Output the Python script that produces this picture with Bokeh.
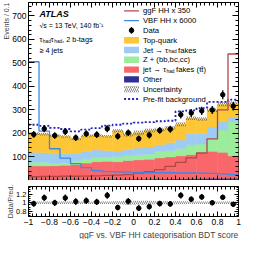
import numpy as np
from bokeh.plotting import figure
from bokeh.layouts import column
from bokeh.models import Range1d, FixedTicker, LinearAxis, Title, CustomJSTickFormatter
from bokeh.core.properties import value
from bokeh.embed import file_html
from bokeh.resources import INLINE

# ---------------- data ----------------
bin_low = [-1.0, -0.9, -0.8, -0.7, -0.6, -0.5, -0.4, -0.3, -0.2, -0.1,
           0.0, 0.1, 0.2, 0.3, 0.4, 0.5, 0.6, 0.7, 0.8, 0.9]
bin_width = 0.1

data = [196, 220, 191, 208, 182, 199, 195, 220, 188, 203,
        178, 193, 213, 218, 280, 287, 296, 300, 365, 316]
other = [4, 4, 4, 4, 4, 4, 4, 5, 5, 5, 5, 5, 6, 6, 7, 8, 9, 10, 10, 10]
fake_tt = [58, 58, 59, 61, 64, 70, 76, 77, 75, 80,
           83, 85, 90, 94, 98, 102, 109, 114, 110, 95]
z_hf = [16, 16, 11, 11, 16, 18, 18, 18, 22, 20,
        22, 22, 28, 28, 31, 42, 37, 54, 95, 145]
jet_fake = [42, 40, 40, 38, 32, 31, 32, 28, 23, 27,
            28, 30, 28, 34, 36, 48, 45, 50, 35, 20]
top_quark = [80, 79, 77, 73, 61, 67, 61, 60, 86, 64,
             65, 70, 65, 62, 67, 65, 61, 72, 74, 57]
unc_frac = [0.03, 0.03, 0.03, 0.03, 0.03, 0.03, 0.03, 0.03, 0.035, 0.05,
            0.05, 0.045, 0.035, 0.035, 0.035, 0.03, 0.03, 0.03, 0.03, 0.03]
prefit = [237, 232, 224, 219, 209, 216, 223, 233, 237, 242,
          246, 248, 252, 254, 294, 298, 308, 334, 334, 344]
ggf_x350 = [16, 17, 17, 18, 18, 19, 20, 22, 23, 25,
            32, 38, 46, 60, 77, 96, 117, 177, 300, 538]
vbf_x6000 = [505, 210, 135, 95, 72, 55, 42, 38, 37, 36,
             34, 33, 33, 33, 32, 32, 31, 30, 28, 25]

x_ticks = [-1.0, -0.8, -0.6, -0.4, -0.2, 0.0, 0.2, 0.4, 0.6, 0.8, 1.0]
x_minor = [round(-1 + 0.04 * i, 2) for i in range(51)]
y_ticks = [100, 200, 300, 400, 500, 600, 700]
y_minor = list(range(0, 760, 20))
r_ticks = [0.8, 1.0, 1.2]
r_minor = [round(0.7 + 0.05 * i, 2) for i in range(14)]

legend_labels = ["ggF HH x 350", "VBF HH x 6000", "Data", "Top-quark",
                 "Jet \u2192 \u03c4", "Z + (bb,bc,cc)", "jet \u2192 \u03c4",
                 "Other", "Uncertainty", "Pre-fit background"]

# ---------------- style ----------------
FONT = "Liberation Sans"
C_TOP = "#fdc636"
C_JET = "#9dcbf3"
C_Z = "#9bec9b"
C_FAKETT = "#f9676a"
C_OTHER = "#2e3192"
C_GGF = "#b0484a"
C_VBF = "#3f86e6"
C_PREFIT = "#2323bb"
DOTS = "2 2"
HATCH = dict(hatch_pattern="/", hatch_color="#555555", hatch_scale=4, hatch_weight=0.7)

W = 250
Y_MAX = 757

lo = np.array(bin_low)
hi = lo + bin_width
ctr = lo + bin_width / 2
edges = np.append(lo, hi[-1])
d = np.array(data, dtype=float)
err = np.sqrt(d)

main = figure(width=W, height=180, x_range=Range1d(-1, 1), y_range=Range1d(0, Y_MAX),
              output_backend="svg", toolbar_location=None,
              min_border_left=26, min_border_right=12, min_border_top=2, min_border_bottom=0)

xticker = FixedTicker(ticks=x_ticks, minor_ticks=x_minor)
yticker = FixedTicker(ticks=y_ticks, minor_ticks=y_minor)
rticker = FixedTicker(ticks=r_ticks, minor_ticks=r_minor)
fmt = CustomJSTickFormatter(code="""
const v = Math.round(tick*100)/100;
return (v < 0 ? '\\u2212' : '') + String(Math.abs(v));
""")


def style_axis(ax, tin, minin, labels, size="8.5px"):
    ax.major_tick_in = tin
    ax.major_tick_out = 0
    ax.minor_tick_in = minin
    ax.minor_tick_out = 0
    ax.axis_line_color = None
    ax.major_tick_line_color = "black"
    ax.minor_tick_line_color = "black"
    if labels:
        ax.major_label_text_font_size = size
        ax.major_label_text_font = FONT
        ax.major_label_text_color = "black"
        ax.major_label_standoff = 2
    else:
        # tick marks only: labels are not drawn at all
        ax.major_label_text_font_size = "1px"
        ax.major_label_text_color = None
        ax.major_label_standoff = 0


def frame_style(p):
    p.xgrid.visible = False
    p.ygrid.visible = False
    p.outline_line_color = "black"
    p.outline_line_width = 1
    p.outline_line_alpha = 1
    p.background_fill_color = "white"
    p.border_fill_color = "white"


frame_style(main)
bx = main.below[0]
bx.ticker = xticker
style_axis(bx, 5, 3, False)
ly = main.left[0]
ly.ticker = yticker
style_axis(ly, 6, 3, True)
ax_top = LinearAxis(ticker=xticker)
style_axis(ax_top, 5, 3, False)
main.add_layout(ax_top, "above")
ax_r = LinearAxis(ticker=yticker)
style_axis(ax_r, 6, 3, False)
main.add_layout(ax_r, "right")
main.add_layout(Title(text="Events / 0.1", align="right", text_font_size="7px",
                      text_font=FONT, text_font_style="normal", standoff=0), "left")

# stacked backgrounds
bottom = np.zeros(len(bin_low))
for vals, col in [(other, C_OTHER), (fake_tt, C_FAKETT), (z_hf, C_Z),
                  (jet_fake, C_JET), (top_quark, C_TOP)]:
    t = bottom + np.array(vals, dtype=float)
    main.quad(left=lo, right=hi, bottom=bottom, top=t, fill_color=col,
              line_color=col, line_width=0.5)
    bottom = t
total = bottom
unc = total * np.array(unc_frac)
main.quad(left=lo, right=hi, bottom=total - unc, top=total + unc,
          fill_alpha=0, line_color=None, **HATCH)


def sy(v):
    v = np.array(v, dtype=float)
    return np.append(v, v[-1])


main.step(edges, sy(prefit), mode="after", line_color=C_PREFIT, line_width=1.8, line_dash=DOTS)
main.step(edges, sy(ggf_x350), mode="after", line_color=C_GGF, line_width=1.3)
main.step(edges, sy(vbf_x6000), mode="after", line_color=C_VBF, line_width=1.3)
main.segment(x0=ctr, y0=d - err, x1=ctr, y1=d + err, line_color="black", line_width=1.3)
main.scatter(ctr, d, size=4.5, color="black")


# annotation helpers: page pixel -> data coordinates of the main frame
def X(px):
    return -1 + (px - 34.0) * 2.0 / 212.0


def Y(py):
    return (188.0 - py) * Y_MAX / 178.0


def txt(px, py, s, size="7.3px", style="normal"):
    main.text(x=[X(px)], y=[Y(py)], text=[s], text_font=value(FONT),
              text_font_size=value(size), text_font_style=style,
              text_baseline="middle", text_align="left", text_color="black")


txt(45, 21.7, "ATLAS", "9px", "bold italic")
txt(45, 33, "\u221as = 13 TeV, 140 fb\u207b\u00b9", "7px")
txt(45, 47.3, "\u03c4")
txt(48.5, 49.2, "had", "4.8px")
txt(56.5, 47.3, "\u03c4")
txt(60, 49.2, "had", "4.8px")
txt(68, 47.3, ", 2 b-tags")
txt(45, 58, "\u2265 4 jets")

# legend
ry = [18.3 + 9.8 * i for i in range(10)]
LX0, LX1, TX = 130.5, 145.5, 149.5
LS = "7.7px"
main.line([X(LX0), X(LX1)], [Y(ry[0])] * 2, line_color=C_GGF, line_width=1.3)
main.line([X(LX0), X(LX1)], [Y(ry[1])] * 2, line_color=C_VBF, line_width=1.3)
main.segment(x0=[X(138)], y0=[Y(ry[2] - 3.3)], x1=[X(138)], y1=[Y(ry[2] + 3.3)],
             line_color="black", line_width=1.3)
main.scatter([X(138)], [Y(ry[2])], size=4.5, color="black")
for i, col in zip([3, 4, 5, 6, 7], [C_TOP, C_JET, C_Z, C_FAKETT, C_OTHER]):
    main.quad(left=[X(LX0)], right=[X(LX1)], top=[Y(ry[i] - 3.2)], bottom=[Y(ry[i] + 3.2)],
              fill_color=col, line_color=None)
main.quad(left=[X(LX0)], right=[X(LX1)], top=[Y(ry[8] - 3.2)], bottom=[Y(ry[8] + 3.2)],
          fill_alpha=0, line_color=None, **HATCH)
main.line([X(LX0), X(LX1)], [Y(ry[9])] * 2, line_color=C_PREFIT, line_width=1.8, line_dash=DOTS)

for i, lab in enumerate(legend_labels):
    txt(TX, ry[i], lab, LS)
txt(175.4, ry[4] + 1.9, "had", "4.8px")
txt(185, ry[4], "fakes", LS)
txt(173.3, ry[6] + 1.9, "had", "4.8px")
txt(183, ry[6], "fakes (tt\u0304)", LS)

# ---------------- ratio panel ----------------
ratio = figure(width=W, height=59, x_range=main.x_range, y_range=Range1d(0.685, 1.375),
               output_backend="svg", toolbar_location=None,
               min_border_left=26, min_border_right=12, min_border_top=6, min_border_bottom=0)
frame_style(ratio)
rbx = ratio.below[0]
rbx.ticker = xticker
rbx.formatter = fmt
style_axis(rbx, 5, 3, True, "8.5px")
rly = ratio.left[0]
rly.ticker = rticker
rly.formatter = fmt
style_axis(rly, 4, 2, True, "7.5px")
rat = LinearAxis(ticker=xticker)
style_axis(rat, 5, 3, False)
ratio.add_layout(rat, "above")
rar = LinearAxis(ticker=rticker)
style_axis(rar, 4, 2, False)
ratio.add_layout(rar, "right")
ratio.add_layout(Title(text="Data/Pred.", align="center", text_font_size="7px",
                       text_font=FONT, text_font_style="normal", standoff=0), "left")
ratio.add_layout(Title(text="ggF vs. VBF HH categorisation BDT score", align="right",
                       text_font_size="8.5px", text_font=FONT, text_font_style="normal",
                       standoff=0), "below")

rel = unc / total
ratio.quad(left=lo, right=hi, bottom=1 - rel, top=1 + rel, fill_alpha=0, line_color=None, **HATCH)
r = d / total
re = err / total
ratio.segment(x0=ctr, y0=r - re, x1=ctr, y1=r + re, line_color="black", line_width=1.3)
ratio.scatter(ctr, r, size=4.5, color="black")

layout = column(main, ratio)
open("out.html", "w").write(file_html(layout, INLINE))
